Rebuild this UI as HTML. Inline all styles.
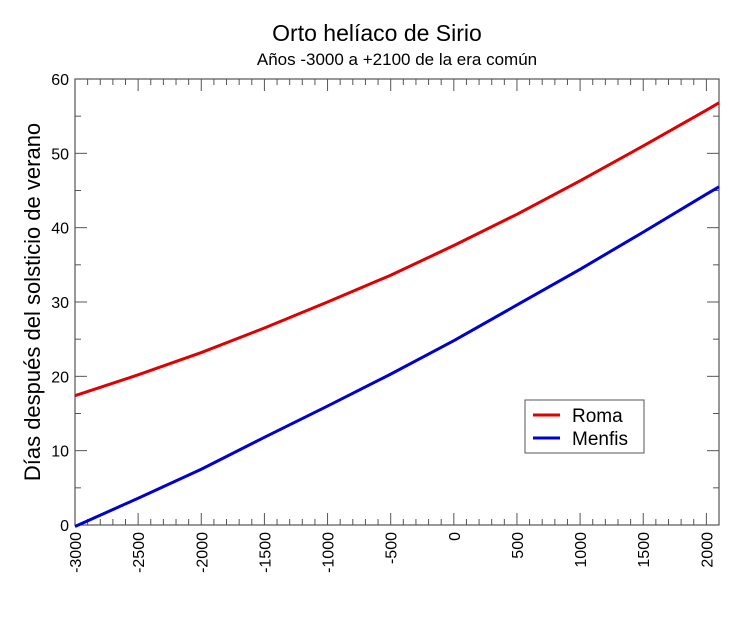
<!DOCTYPE html>
<html><head><meta charset="utf-8"><style>body{margin:0;background:#fff}svg{font-family:"Liberation Sans",sans-serif}</style></head>
<body>
<svg id="c" width="754" height="612">
<text x="377" y="41" text-anchor="middle" font-size="23">Orto helíaco de Sirio</text>
<text x="397" y="65" text-anchor="middle" font-size="17">Años -3000 a +2100 de la era común</text>
<text transform="translate(40,302) rotate(-90)" text-anchor="middle" font-size="22">Días después del solsticio de verano</text>
<g id="ax"></g><g id="series"></g>
<g>
<rect x="525" y="400" width="119" height="53" fill="#fff" stroke="#555" stroke-width="1"/>
<line x1="533" y1="415" x2="560" y2="415" stroke="#e00000" stroke-width="3"/>
<text x="572" y="422" font-size="19">Roma</text>
<line x1="533" y1="438" x2="560" y2="438" stroke="#0000d0" stroke-width="3"/>
<text x="572" y="445" font-size="19">Menfis</text>
</g>
</svg>
<script>
const years=[-3000,-2500,-2000,-1500,-1000,-500,0,500,1000,1500,2000,2100];
const roma=[17.4,20.2,23.2,26.5,30.0,33.6,37.6,41.8,46.3,51.0,55.8,56.8];
const menfis=[-0.2,3.6,7.5,11.8,16.0,20.3,24.8,29.6,34.4,39.4,44.5,45.5];
const xTicks=[-3000,-2500,-2000,-1500,-1000,-500,0,500,1000,1500,2000];
const yTicks=[0,10,20,30,40,50,60];
const L=75,R=719,T=79,B=525,X0=-3000,X1=2100,Y0=0,Y1=60;
const sx=v=>L+(v-X0)/(X1-X0)*(R-L), sy=v=>B-(v-Y0)/(Y1-Y0)*(B-T);
const NS='http://www.w3.org/2000/svg';
const ax=document.getElementById('ax'), sg=document.getElementById('series');
function mk(t,a,p){const e=document.createElementNS(NS,t);for(const k in a)e.setAttribute(k,a[k]);p.appendChild(e);return e;}
const fr=mk('rect',{x:L,y:T,width:R-L,height:B-T,fill:'none',stroke:'#555','stroke-width':1.2},ax);


for(let v=-3000;v<=2100;v+=100){const major=v%500===0;const len=major?12:6;const x=sx(v);
 const t1=mk('line',{x1:x,y1:B,x2:x,y2:B-len,stroke:'#555'},ax);
 
 
 const t2=mk('line',{x1:x,y1:T,x2:x,y2:T+len,stroke:'#555'},ax);
 
 }
xTicks.forEach(v=>{const x=sx(v);const t=mk('text',{transform:`translate(${x+6},532) rotate(-90)`,'text-anchor':'end','font-size':16},ax);t.textContent=v;
 
 });
for(let v=0;v<=60;v+=5){const major=v%10===0;const len=major?12:6;const y=sy(v);
 const a=mk('line',{x1:L,y1:y,x2:L+len,y2:y,stroke:'#555'},ax);
 
 
 const b=mk('line',{x1:R,y1:y,x2:R-len,y2:y,stroke:'#555'},ax);
 
 }
yTicks.forEach(v=>{const t=mk('text',{x:69,y:sy(v)+6,'text-anchor':'end','font-size':16},ax);t.textContent=v;
 
 });
function line(d,c,n){const p=mk('polyline',{points:years.map((y,i)=>sx(y)+','+sy(d[i])).join(' '),fill:'none',stroke:c,'stroke-width':3,'stroke-linejoin':'round'},sg);
 
 }
line(roma,'#e00000','series-roma');
line(menfis,'#0000d0','series-menfis');
</script>
</body></html>
